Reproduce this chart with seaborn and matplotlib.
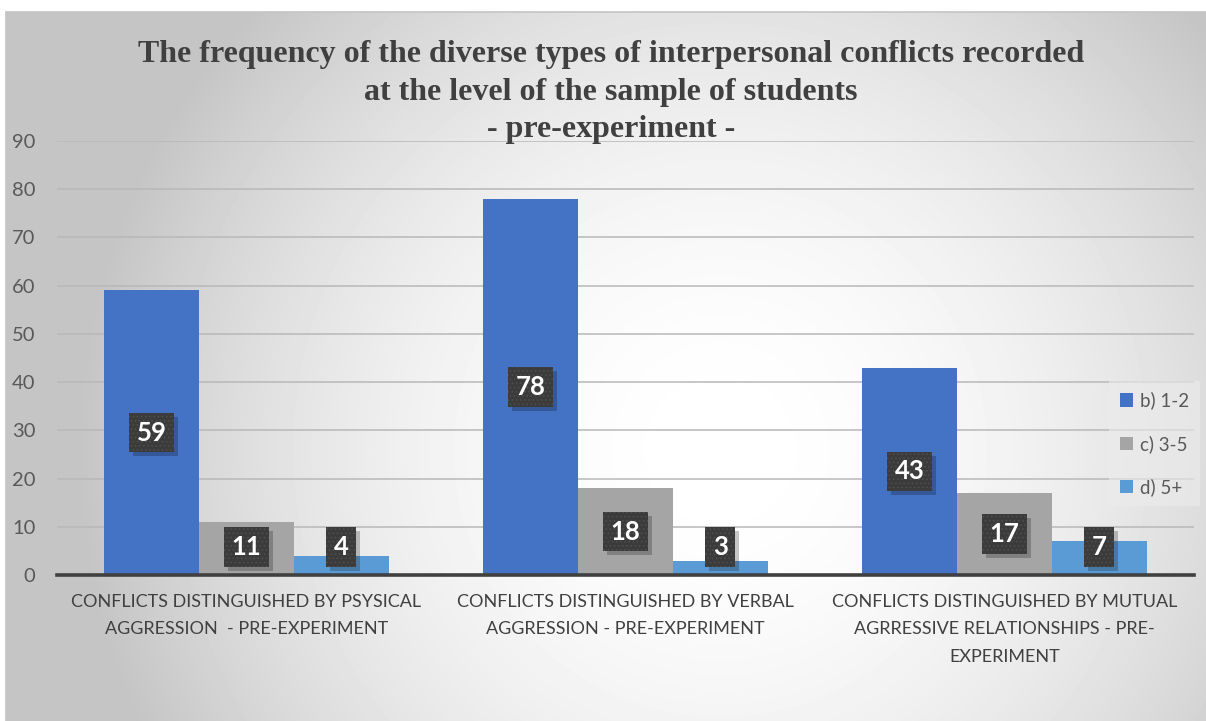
import numpy as np
import pandas as pd
import matplotlib
matplotlib.use("Agg")
import matplotlib.pyplot as plt
from matplotlib.patches import Patch, Rectangle
from matplotlib.lines import Line2D
from matplotlib.transforms import IdentityTransform
import seaborn as sns

# ---- data -------------------------------------------------------------
categories = [
    "CONFLICTS DISTINGUISHED BY PSYSICAL\nAGGRESSION  - PRE-EXPERIMENT",
    "CONFLICTS DISTINGUISHED BY VERBAL\nAGGRESSION - PRE-EXPERIMENT",
    "CONFLICTS DISTINGUISHED BY MUTUAL\nAGRRESSIVE RELATIONSHIPS - PRE-\nEXPERIMENT",
]
series_names = ["b) 1-2", "c) 3-5", "d) 5+"]
values_b = [59, 78, 43]
values_c = [11, 18, 17]
values_d = [4, 3, 7]
y_ticks = [0, 10, 20, 30, 40, 50, 60, 70, 80, 90]
title_lines = [
    "The frequency of the diverse types of interpersonal conflicts recorded",
    "at the level of the sample of students",
    "- pre-experiment -",
]
series_colors = ["#4472C4", "#A5A5A5", "#5B9BD5"]

df = pd.DataFrame({
    "category": categories * 3,
    "series": [s for s in series_names for _ in categories],
    "value": values_b + values_c + values_d,
})

# ---- style ------------------------------------------------------------
sns.set_theme(style="white")
plt.rcParams["font.family"] = ["Lato", "DejaVu Sans"]
plt.rcParams["hatch.linewidth"] = 0.7

W, H = 1206, 721
fig = plt.figure(figsize=(W / 100, H / 100), dpi=100)
fig.patch.set_facecolor("white")

# radial light-grey background of the chart area
bg = fig.add_axes([6 / W, 0, 1 - 6 / W, (H - 12) / H], zorder=-10)
yy, xx = np.mgrid[12:H, 6:W]
r = np.hypot(xx - 720, yy - 450) / 640
shade = 255 - 58 * np.clip(r, 0, 1) ** 1.9
bg.imshow(shade, cmap="gray", vmin=0, vmax=255, aspect="auto",
          interpolation="bilinear")
bg.set_axis_off()
fig.add_artist(Line2D([6 / W, 1], [1 - 12 / H, 1 - 12 / H],
                      color="#c4c4c4", lw=1.2, transform=fig.transFigure))
fig.add_artist(Line2D([6 / W, 6 / W], [0, 1 - 12 / H],
                      color="#c4c4c4", lw=1.2, transform=fig.transFigure))

# ---- bars -------------------------------------------------------------
ax = fig.add_axes([57 / W, (H - 575) / H, (1194 - 57) / W, (575 - 141) / H])
ax.patch.set_alpha(0)

sns.barplot(data=df, x="category", y="value", hue="series",
            order=categories, hue_order=series_names,
            palette=series_colors, saturation=1, width=0.75,
            linewidth=0, edgecolor="none",
            legend=False, ax=ax, zorder=3)

ax.set_xlim(-0.5, 2.5)
ax.set_ylim(0, 90)
ax.set_yticks(y_ticks)
ax.set_xlabel("")
ax.set_ylabel("")

ax.yaxis.grid(True, color="#b8b8b8", lw=1.1)
ax.set_axisbelow(True)
for side in ("left", "top", "right"):
    ax.spines[side].set_visible(False)
ax.spines["bottom"].set_color("#404040")
ax.spines["bottom"].set_linewidth(2.6)
ax.spines["bottom"].set_zorder(4)

ax.tick_params(axis="y", length=0, pad=15.5, labelsize=14.5,
               labelcolor="#595959")
ax.tick_params(axis="x", which="major", length=0, pad=14, labelsize=13,
               labelcolor="#404040")
ax.set_xticks([-0.5, 0.5, 1.5, 2.5], minor=True)
ax.tick_params(axis="x", which="minor", length=5, width=2.5,
               color="#404040", direction="out")
for lbl in ax.get_xticklabels():
    lbl.set_linespacing(1.85)

# value labels in dark dotted boxes
value_labels = []
for cont in ax.containers:
    for bar in cont:
        val = bar.get_height()
        cx = bar.get_x() + bar.get_width() / 2
        t = ax.text(cx, max(val / 2, 5.8), f"{val:g}", color="white",
                    ha="center", va="center", fontsize=18.5,
                    fontweight="bold", zorder=6,
                    bbox=dict(boxstyle="square,pad=0.3", fc="#3b3b3b",
                              ec="#4e4e4e", lw=0, hatch="...."))
        value_labels.append(t)

# legend
handles = [Patch(fc=c, ec="none") for c in series_colors]
fig.legend(handles, series_names, loc="upper left",
           bbox_to_anchor=(1100 / W, 1 - 372 / H), frameon=True,
           facecolor="#ececec", framealpha=0.6, edgecolor="none",
           fancybox=False, fontsize=13.5, labelspacing=1.35,
           handlelength=0.7, handleheight=0.7, handletextpad=0.4,
           borderpad=0.55, labelcolor="#595959")

# title
for y_px, line in zip([62, 100, 137], title_lines):
    fig.text(611 / W, 1 - y_px / H, line, ha="center", va="baseline",
             fontsize=23, fontweight="bold", family="Liberation Serif",
             color="#404040")

# drop shadows behind the value boxes
fig.canvas.draw()
for t in value_labels:
    bb = t.get_bbox_patch().get_window_extent()
    ax.add_patch(Rectangle((bb.x0 + 4, bb.y0 - 4), bb.width, bb.height,
                           transform=IdentityTransform(), fc="black",
                           alpha=0.22, lw=0, zorder=5, clip_on=False))

fig.savefig("out.png", dpi=100)
